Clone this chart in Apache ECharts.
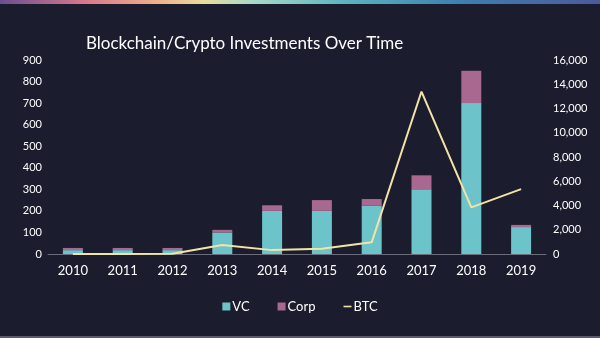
<!DOCTYPE html>
<html>
<head>
<meta charset="utf-8">
<script src="https://cdn.jsdelivr.net/npm/echarts@6/dist/echarts.min.js"></script>
<style>
  html, body { margin: 0; padding: 0; background: #1b1c2e; }
  #chart { width: 600px; height: 338px; }
</style>
</head>
<body>
<div id="chart"></div>
<script>
// Yearly investment totals (USD millions) and BTC year-end price (USD)
const years = ['2010', '2011', '2012', '2013', '2014', '2015', '2016', '2017', '2018', '2019'];
const vcValues = [18, 18, 18, 100, 200, 200, 225, 300, 700, 125];
const corpValues = [10, 10, 10, 12, 26, 50, 30, 65, 150, 10];
const btcValues = [0.3, 5, 13.5, 750, 320, 430, 960, 13400, 3850, 5350];
const leftTicks = { min: 0, max: 900, interval: 100 };
const rightTicks = { min: 0, max: 16000, interval: 2000 };

const font = 'Lato, "Noto Sans", sans-serif';
const chart = echarts.init(document.getElementById('chart'), null, { renderer: 'canvas' });

chart.setOption({
  backgroundColor: '#1b1c2e',
  textStyle: { fontFamily: font },
  graphic: [
    {
      type: 'rect',
      shape: { x: 0, y: 0, width: 600, height: 4 },
      style: {
        fill: new echarts.graphic.LinearGradient(0, 0, 1, 0, [
          { offset: 0, color: '#6a4f90' },
          { offset: 0.14, color: '#d7778c' },
          { offset: 0.26, color: '#efae8c' },
          { offset: 0.34, color: '#e8dc9e' },
          { offset: 0.42, color: '#a9d9c9' },
          { offset: 0.58, color: '#5ab3c0' },
          { offset: 0.76, color: '#3f80b0' },
          { offset: 1, color: '#4b5a9b' }
        ])
      },
      silent: true
    },
    {
      type: 'rect',
      shape: { x: 0, y: 336, width: 600, height: 2 },
      style: { fill: '#5a5c6e' },
      silent: true
    }
  ],
  title: {
    text: 'Blockchain/Crypto Investments Over Time',
    left: 81,
    top: 30,
    textStyle: { color: '#ffffff', fontSize: 17, fontWeight: 'normal', fontFamily: font }
  },
  legend: {
    bottom: 20,
    left: 'center',
    itemGap: 28,
    itemWidth: 8,
    itemHeight: 8,
    textStyle: { color: '#ffffff', fontSize: 13, fontFamily: font, padding: [0, 0, 0, -3] },
    data: [
      { name: 'VC', icon: 'rect' },
      { name: 'Corp', icon: 'rect' },
      { name: 'BTC', icon: 'path://M0,4 L10,4 L10,6 L0,6 Z', itemStyle: { color: '#f3e3a6' } }
    ]
  },
  grid: { left: 48, right: 54, top: 60, bottom: 84 },
  xAxis: {
    type: 'category',
    data: years,
    axisLine: { lineStyle: { color: '#6a6c7c', width: 1 } },
    axisTick: { show: false },
    axisLabel: { color: '#ffffff', fontSize: 13, margin: 10, fontFamily: font }
  },
  yAxis: [
    {
      type: 'value',
      min: leftTicks.min, max: leftTicks.max, interval: leftTicks.interval,
      splitLine: { show: false },
      axisLine: { show: false },
      axisTick: { show: false },
      axisLabel: { color: '#ffffff', fontSize: 11, margin: 6, fontFamily: font }
    },
    {
      type: 'value',
      min: rightTicks.min, max: rightTicks.max, interval: rightTicks.interval,
      splitLine: { show: false },
      axisLine: { show: false },
      axisTick: { show: false },
      axisLabel: {
        color: '#ffffff', fontSize: 11, margin: 7, fontFamily: font,
        formatter: v => v.toLocaleString('en-US')
      }
    }
  ],
  series: [
    {
      name: 'VC',
      type: 'bar',
      stack: 'inv',
      data: vcValues,
      barWidth: 20,
      itemStyle: { color: '#6cc3c9' }
    },
    {
      name: 'Corp',
      type: 'bar',
      stack: 'inv',
      data: corpValues,
      barWidth: 20,
      itemStyle: { color: '#a8688f' }
    },
    {
      name: 'BTC',
      type: 'line',
      yAxisIndex: 1,
      data: btcValues,
      symbol: 'none',
      lineStyle: { color: '#f3e3a6', width: 2 },
      itemStyle: { color: '#f3e3a6' },
      z: 5
    }
  ]
});
</script>
</body>
</html>
